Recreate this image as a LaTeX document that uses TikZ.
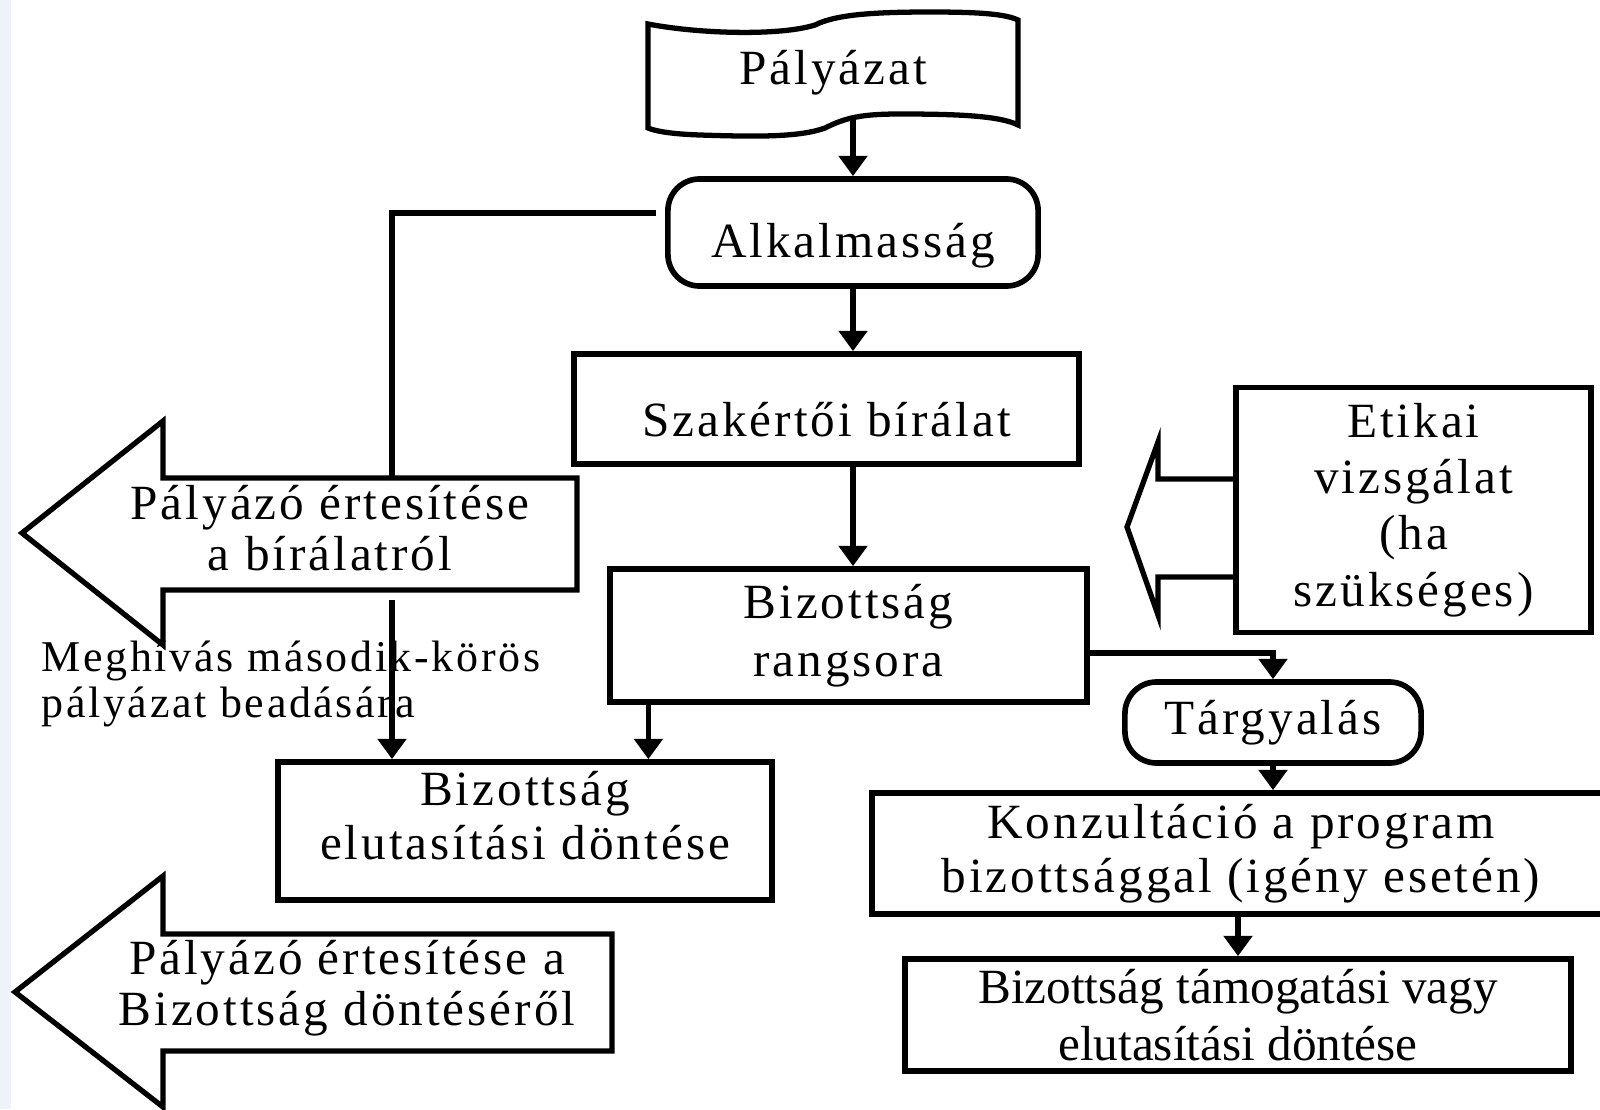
\documentclass[tikz,border=0pt]{standalone}
\usepackage{fontspec}
\setmainfont{Liberation Serif}
\newfontfamily\boxfont{Liberation Serif}[LetterSpace=6]
\usetikzlibrary{arrows.meta}
\usetikzlibrary{positioning}

\definecolor{edgeblue}{RGB}{238,243,249}

\tikzset{
  box/.style={draw, line width=1.6pt, align=center, inner sep=0pt,
    font=\boxfont\fontsize{14}{15.5}\selectfont},
  rbox/.style={box, rounded corners=9pt},
  link/.style={line width=1.5pt},
  arr/.style={link, -{Triangle[length=5.8pt, width=8pt]}},
  label/.style={align=center, font=\boxfont\fontsize{14}{14.5}\selectfont},
}

\begin{document}
\begin{tikzpicture}[x=0.01cm, y=-0.01cm]
    \useasboundingbox (0,0) rectangle (1600,1109);
    \fill[edgeblue] (0,0) rectangle (11,1109);

    % main column
    \draw[link] (648,24) .. controls (700,34) and (780,36) .. (815,25)
        .. controls (835,15) and (870,12) .. (930,12)
        .. controls (980,12) and (1005,14) .. (1018,20) -- (1018,125)
        .. controls (1000,116) and (960,114) .. (900,114)
        .. controls (860,114) and (845,118) .. (825,128)
        .. controls (800,137) and (760,137) .. (700,135)
        .. controls (670,134) and (655,131) .. (648,128) -- cycle;
    \node[label] (pal) at (833,73) {Pályázat};
    \coordinate (palbot) at (853,117);

    \node[rbox, minimum width=3.7cm, minimum height=1.07cm, text height=17pt] (alk) at (853,232.5) {Alkalmasság};
    \node[box, minimum width=5.05cm, minimum height=1.1cm, text height=15.5pt] (szak) at (826.5,409) {Szakértői bírálat};
    \node[box, minimum width=4.77cm, minimum height=1.33cm, font=\boxfont\fontsize{14}{16.5}\selectfont] (rang) at (848.5,635.5) {Bizottság\\rangsora};
    \node[box, minimum width=4.94cm, minimum height=1.38cm, text depth=9pt] (elut) at (525,831) {Bizottság\\elutasítási döntése};

    \draw[arr] (palbot) -- (alk.north);
    \draw[arr] (alk.south) -- (alk.south |- szak.north);
    \draw[arr] (alk.south |- szak.south) -- (alk.south |- rang.north);
    \draw[arr] ([xshift=-2cm]rang.south) -- ([xshift=-2cm]rang.south |- elut.north);

    % first notice
    \draw[link] (577,478) -- (163,478) -- (163,421) -- (22,533) -- (163,645)
        -- (163,590) -- (577,590) -- cycle;
    \node[label] (ert1) at (330,528) {Pályázó értesítése\\a bírálatról};
    \coordinate (alkleft) at (656,213);
    \coordinate (ert1top) at (392,478);
    \coordinate (ert1bot) at (392,600);
    \draw[link] (alkleft) -| (ert1top);
    \draw[arr] (ert1bot) -- (ert1bot |- elut.north);
    \node[anchor=west, align=left, inner sep=0pt,
      font=\boxfont\fontsize{12.5}{13.2}\selectfont] (megh) at (41,684)
      {Meghívás második-körös\\pályázat beadására};

    % right column
    \node[box, minimum width=3.55cm, minimum height=2.45cm, font=\boxfont\fontsize{14}{16}\selectfont] (etik) at (1413.5,510) {Etikai\\vizsgálat\\(ha\\szükséges)};
    \draw[link] (etik.west |- 0,479) -- (1158,479) -- (1158,442) -- (1127,527)
        -- (1158,615) -- (1158,577) -- (etik.west |- 0,577);

    \node[rbox, minimum width=2.96cm, minimum height=0.81cm] (targy) at (1273,722.5) {Tárgyalás};
    \node[box, minimum width=7.38cm, minimum height=1.21cm] (konz) at (1241,853.5) {Konzultáció a program\\bizottsággal (igény esetén)};
    \node[box, minimum width=6.66cm, minimum height=1.12cm,
      font=\fontsize{14}{16}\selectfont] (tam) at (1238,1015) {Bizottság támogatási vagy\\elutasítási döntése};

    \draw[arr] ([yshift=-0.175cm]rang.east) -| (targy.north);
    \draw[arr] (targy.south) -- (targy.south |- konz.north);
    \draw[arr] (tam.north |- konz.south) -- (tam.north);

    % final notice
    \draw[link] (612,934) -- (163,934) -- (163,876) -- (15,992) -- (163,1107)
        -- (163,1051) -- (612,1051) -- cycle;
    \node[label] (ert2) at (347,988) {Pályázó értesítése a\\Bizottság döntéséről};
\end{tikzpicture}
\end{document}
